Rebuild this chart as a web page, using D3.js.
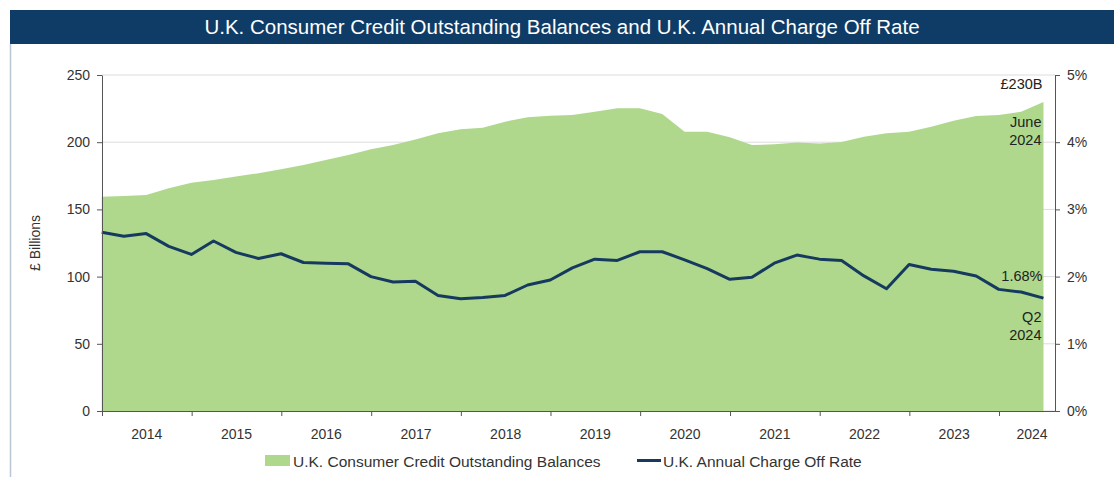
<!DOCTYPE html>
<html>
<head>
<meta charset="utf-8">
<script src="https://cdn.jsdelivr.net/npm/d3@7"></script>
<style>
  body { margin:0; background:#fff; }
  svg { font-family: "Liberation Sans", Arial, sans-serif; }
  .axis text { font-size:14px; fill:#333; }
  .axis path, .axis line { stroke:#555; }
</style>
</head>
<body>
<svg id="chart"></svg>
<script>
// quarter end dates
var quarters = ["2013-12-31","2014-03-31","2014-06-30","2014-09-30","2014-12-31",
  "2015-03-31","2015-06-30","2015-09-30","2015-12-31",
  "2016-03-31","2016-06-30","2016-09-30","2016-12-31",
  "2017-03-31","2017-06-30","2017-09-30","2017-12-31",
  "2018-03-31","2018-06-30","2018-09-30","2018-12-31",
  "2019-03-31","2019-06-30","2019-09-30","2019-12-31",
  "2020-03-31","2020-06-30","2020-09-30","2020-12-31",
  "2021-03-31","2021-06-30","2021-09-30","2021-12-31",
  "2022-03-31","2022-06-30","2022-09-30","2022-12-31",
  "2023-03-31","2023-06-30","2023-09-30","2023-12-31",
  "2024-03-31","2024-06-30"]

// £ billions
var balances = [159.5,160,160.7,165.7,169.9,171.9,174.4,176.9,179.8,183,186.8,190.5,194.7,197.9,
  202,206.6,209.6,210.8,215.3,218.5,219.7,220.2,222.7,225.2,225.2,221,207.8,207.8,
  203.6,197.9,198.4,199.7,199.1,200.1,204.1,206.6,207.8,211.5,216,219.5,220.2,222.7,230]

// annual charge off rate, %
var chargeOff = [2.66,2.60,2.64,2.45,2.33,2.53,2.36,2.27,2.34,2.21,2.20,2.19,2.00,1.92,
  1.93,1.72,1.67,1.69,1.72,1.875,1.95,2.13,2.26,2.24,2.37,2.37,2.25,2.12,
  1.96,1.99,2.20,2.32,2.26,2.24,2.01,1.82,2.18,2.11,2.08,2.01,1.81,1.77,1.68]

var yearLabels = ["2014","2015","2016","2017","2018","2019","2020","2021","2022","2023","2024"]
var leftTicks = [0,50,100,150,200,250]
var rightTicks = [0,1,2,3,4,5]

var title = "U.K. Consumer Credit Outstanding Balances and U.K. Annual Charge Off Rate"
var seriesNames = ["U.K. Consumer Credit Outstanding Balances","U.K. Annual Charge Off Rate"]

var screen = {width:1114, height:477}
var plot = {left:102, right:1055, top:75, bottom:411}
var green = "#afd88d"
var navy = "#163a5f"

var parse = d3.timeParse("%Y-%m-%d")
var data = quarters.map(function(q,i){
    return {date:parse(q), bal:balances[i], rate:chargeOff[i]}
})

var svg = d3.select("#chart")
    .attr("width",screen.width)
    .attr("height",screen.height)

// frame + title bar
svg.append("line")
    .attr("x1",10.5).attr("x2",10.5)
    .attr("y1",44).attr("y2",screen.height)
    .attr("stroke","#b9c6d3")
    .attr("stroke-width",1.5)
svg.append("rect")
    .attr("x",10).attr("y",10)
    .attr("width",screen.width-10).attr("height",34)
    .attr("fill","#0f3c66")
svg.append("text")
    .text(title)
    .attr("x",562).attr("y",34)
    .attr("text-anchor","middle")
    .attr("fill","#fff")
    .style("font-size","20.5px")

var xScale = d3.scaleTime()
    .domain([parse("2014-01-01"), parse("2024-08-16")])
    .range([plot.left,plot.right])
var yLeft = d3.scaleLinear()
    .domain([0,250])
    .range([plot.bottom,plot.top])
var yRight = d3.scaleLinear()
    .domain([0,5])
    .range([plot.bottom,plot.top])

// gridlines
svg.append("g")
    .selectAll("line")
    .data(leftTicks)
    .enter()
    .append("line")
    .attr("x1",plot.left).attr("x2",plot.right)
    .attr("y1",function(d){return yLeft(d)})
    .attr("y2",function(d){return yLeft(d)})
    .attr("stroke","#dcdcdc")

var area = d3.area()
    .x(function(d){return xScale(d.date)})
    .y0(yLeft(0))
    .y1(function(d){return yLeft(d.bal)})
svg.append("path")
    .datum(data)
    .attr("d",area)
    .attr("fill",green)

var line = d3.line()
    .x(function(d){return xScale(d.date)})
    .y(function(d){return yRight(d.rate)})
svg.append("path")
    .datum(data)
    .attr("d",line)
    .attr("fill","none")
    .attr("stroke",navy)
    .attr("stroke-width",3)
    .attr("stroke-linejoin","round")

// axes
var yearDates = yearLabels.map(function(y){return parse(y+"-01-01")})
svg.append("g")
    .classed("axis",true)
    .attr("transform","translate(0,"+plot.bottom+")")
    .call(d3.axisBottom(xScale).tickValues(yearDates).tickFormat("").tickSize(5).tickSizeOuter(0))
svg.append("g")
    .classed("axis",true)
    .attr("transform","translate("+plot.left+",0)")
    .call(d3.axisLeft(yLeft).tickValues(leftTicks).tickSize(5).tickSizeOuter(0).tickPadding(7))
svg.append("g")
    .classed("axis",true)
    .attr("transform","translate("+plot.right+",0)")
    .call(d3.axisRight(yRight).tickValues(rightTicks).tickSize(5).tickSizeOuter(0).tickPadding(7)
        .tickFormat(function(d){return d+"%"}))

var end = xScale.domain()[1]
svg.append("g")
    .classed("axis",true)
    .selectAll("text")
    .data(yearLabels)
    .enter()
    .append("text")
    .text(function(d){return d})
    .attr("text-anchor","middle")
    .attr("x",function(d){
        var a = parse(d+"-01-01"), b = parse((+d+1)+"-01-01")
        if (b > end) b = end
        return (xScale(a)+xScale(b))/2 + (b===end ? 5 : 0)
    })
    .attr("y",439)

svg.append("text")
    .text("£ Billions")
    .attr("transform","translate(40,243) rotate(-90)")
    .attr("text-anchor","middle")
    .attr("fill","#333")
    .style("font-size","14px")

// end annotations
var last = data[data.length-1]
var ax = xScale(last.date)-1
var notes = svg.append("g")
    .attr("text-anchor","end")
    .attr("fill","#222")
    .style("font-size","14.5px")
notes.append("text").text("£"+Math.round(last.bal)+"B").attr("x",ax).attr("y",yLeft(last.bal)-13)
notes.append("text").text("June").attr("x",ax-1).attr("y",yLeft(last.bal)+25)
notes.append("text").text("2024").attr("x",ax-1).attr("y",yLeft(last.bal)+43)
notes.append("text").text(last.rate.toFixed(2)+"%").attr("x",ax).attr("y",yRight(last.rate)-17)
notes.append("text").text("Q2").attr("x",ax-1).attr("y",yRight(last.rate)+24)
notes.append("text").text("2024").attr("x",ax-1).attr("y",yRight(last.rate)+42)

// legend
var legend = svg.append("g")
    .style("font-size","15.5px")
legend.append("rect")
    .attr("x",265).attr("y",455)
    .attr("width",25).attr("height",11)
    .attr("fill",green)
legend.append("text")
    .text(seriesNames[0])
    .attr("x",293).attr("y",466.5)
    .attr("fill","#333")
legend.append("line")
    .attr("x1",637).attr("x2",661)
    .attr("y1",460.5).attr("y2",460.5)
    .attr("stroke",navy)
    .attr("stroke-width",3)
legend.append("text")
    .text(seriesNames[1])
    .attr("x",663).attr("y",466.5)
    .attr("fill","#333")
</script>
</body>
</html>
